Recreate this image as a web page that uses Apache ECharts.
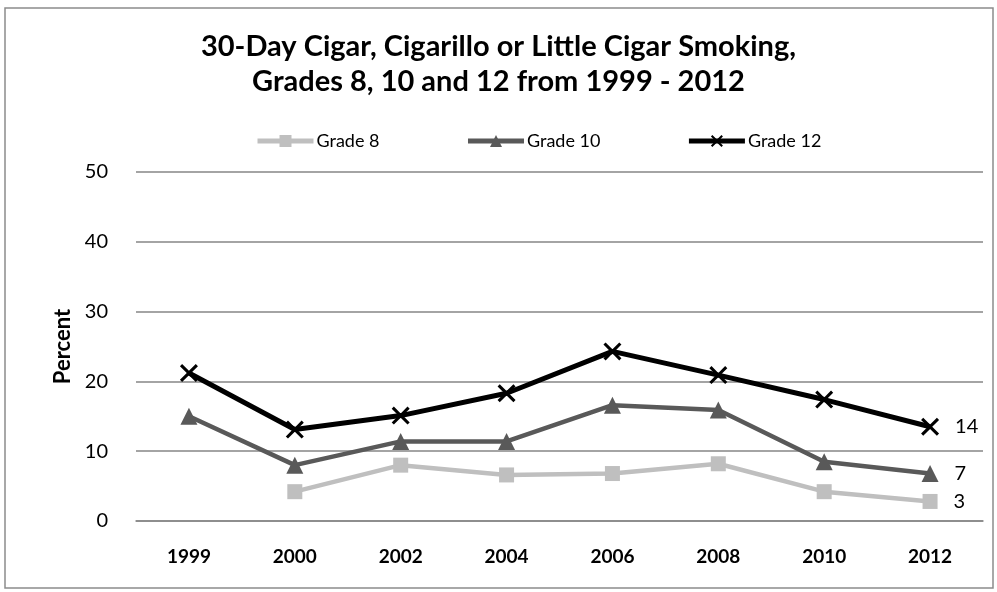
<!DOCTYPE html>
<html>
<head>
<meta charset="utf-8">
<script src="https://cdn.jsdelivr.net/npm/echarts@6/dist/echarts.min.js"></script>
<style>
  html, body { margin: 0; padding: 0; background: #fff; }
  #chart { width: 997px; height: 592px; }
</style>
</head>
<body>
<div id="chart"></div>
<script>
// data
const years = ["1999", "2000", "2002", "2004", "2006", "2008", "2010", "2012"];
const grade8 = ["-", 4.2, 8.0, 6.6, 6.8, 8.2, 4.2, 2.8];
const grade10 = [15.0, 8.0, 11.4, 11.4, 16.6, 15.9, 8.5, 6.8];
const grade12 = [21.2, 13.1, 15.1, 18.3, 24.3, 20.9, 17.4, 13.5];
const yTicks = [0, 10, 20, 30, 40, 50];

const font = "Lato, 'Open Sans', sans-serif";
const crossPath = "path://M0,1.2 L1.2,0 L5,3.8 L8.8,0 L10,1.2 L6.2,5 L10,8.8 L8.8,10 L5,6.2 L1.2,10 L0,8.8 L3.8,5 Z";

const myChart = echarts.init(document.getElementById("chart"), null, { renderer: "canvas" });

// label only on the last point of each line
function endLabel(values) {
  return values.map(function (v, i) {
    if (i !== values.length - 1) return v;
    return {
      value: v,
      label: {
        show: true,
        position: "right",
        distance: 16,
        formatter: function (p) { return Math.round(p.value); },
        color: "#000",
        fontSize: 20,
        fontFamily: font
      }
    };
  });
}

const option = {
  backgroundColor: "#fff",
  animation: false,
  graphic: [{
    type: "rect",
    shape: { x: 5, y: 8, width: 988, height: 580 },
    style: { fill: "none", stroke: "#8c8c8c", lineWidth: 1.5 },
    silent: true
  }],
  title: {
    text: "30-Day Cigar, Cigarillo or Little Cigar Smoking,\nGrades 8, 10 and 12 from 1999 - 2012",
    left: "center",
    top: 24,
    textStyle: {
      fontFamily: font,
      fontSize: 29,
      fontWeight: "bold",
      color: "#000",
      lineHeight: 35
    }
  },
  legend: {
    top: 127,
    left: 250,
    itemGap: 86,
    itemWidth: 56,
    itemHeight: 15,
    lineStyle: { width: 5 },
    textStyle: { fontFamily: font, fontSize: 18, color: "#000", padding: [0, 0, 0, -2] },
    data: ["Grade 8", "Grade 10", "Grade 12"]
  },
  grid: { left: 136, right: 14, top: 172, bottom: 71 },
  xAxis: {
    type: "category",
    data: years,
    boundaryGap: true,
    axisLine: { show: true, lineStyle: { color: "#868686", width: 1.5 } },
    axisTick: { show: false },
    axisLabel: {
      margin: 26,
      fontFamily: font,
      fontSize: 19,
      fontWeight: "bold",
      color: "#000"
    }
  },
  yAxis: {
    type: "value",
    min: yTicks[0],
    max: yTicks[yTicks.length - 1],
    interval: 10,
    name: "Percent",
    nameLocation: "middle",
    nameGap: 62,
    nameTextStyle: { fontFamily: font, fontSize: 22, fontWeight: "bold", color: "#000" },
    axisLine: { show: false },
    axisTick: { show: false },
    axisLabel: { margin: 28, fontFamily: font, fontSize: 20, color: "#000" },
    splitLine: { lineStyle: { color: "#868686", width: 1.5 } }
  },
  series: [
    {
      name: "Grade 8",
      type: "line",
      data: endLabel(grade8),
      color: "#bfbfbf",
      lineStyle: { width: 4.5, color: "#bfbfbf" },
      symbol: "rect",
      symbolSize: 15,
      itemStyle: { color: "#bfbfbf" },
      z: 2
    },
    {
      name: "Grade 10",
      type: "line",
      data: endLabel(grade10),
      color: "#595959",
      lineStyle: { width: 4.5, color: "#595959" },
      symbol: "triangle",
      symbolSize: 17,
      itemStyle: { color: "#595959" },
      z: 3
    },
    {
      name: "Grade 12",
      type: "line",
      data: endLabel(grade12),
      color: "#000",
      lineStyle: { width: 5, color: "#000" },
      symbol: crossPath,
      symbolSize: 18,
      itemStyle: { color: "#000" },
      z: 4
    }
  ]
};

myChart.setOption(option);
</script>
</body>
</html>
